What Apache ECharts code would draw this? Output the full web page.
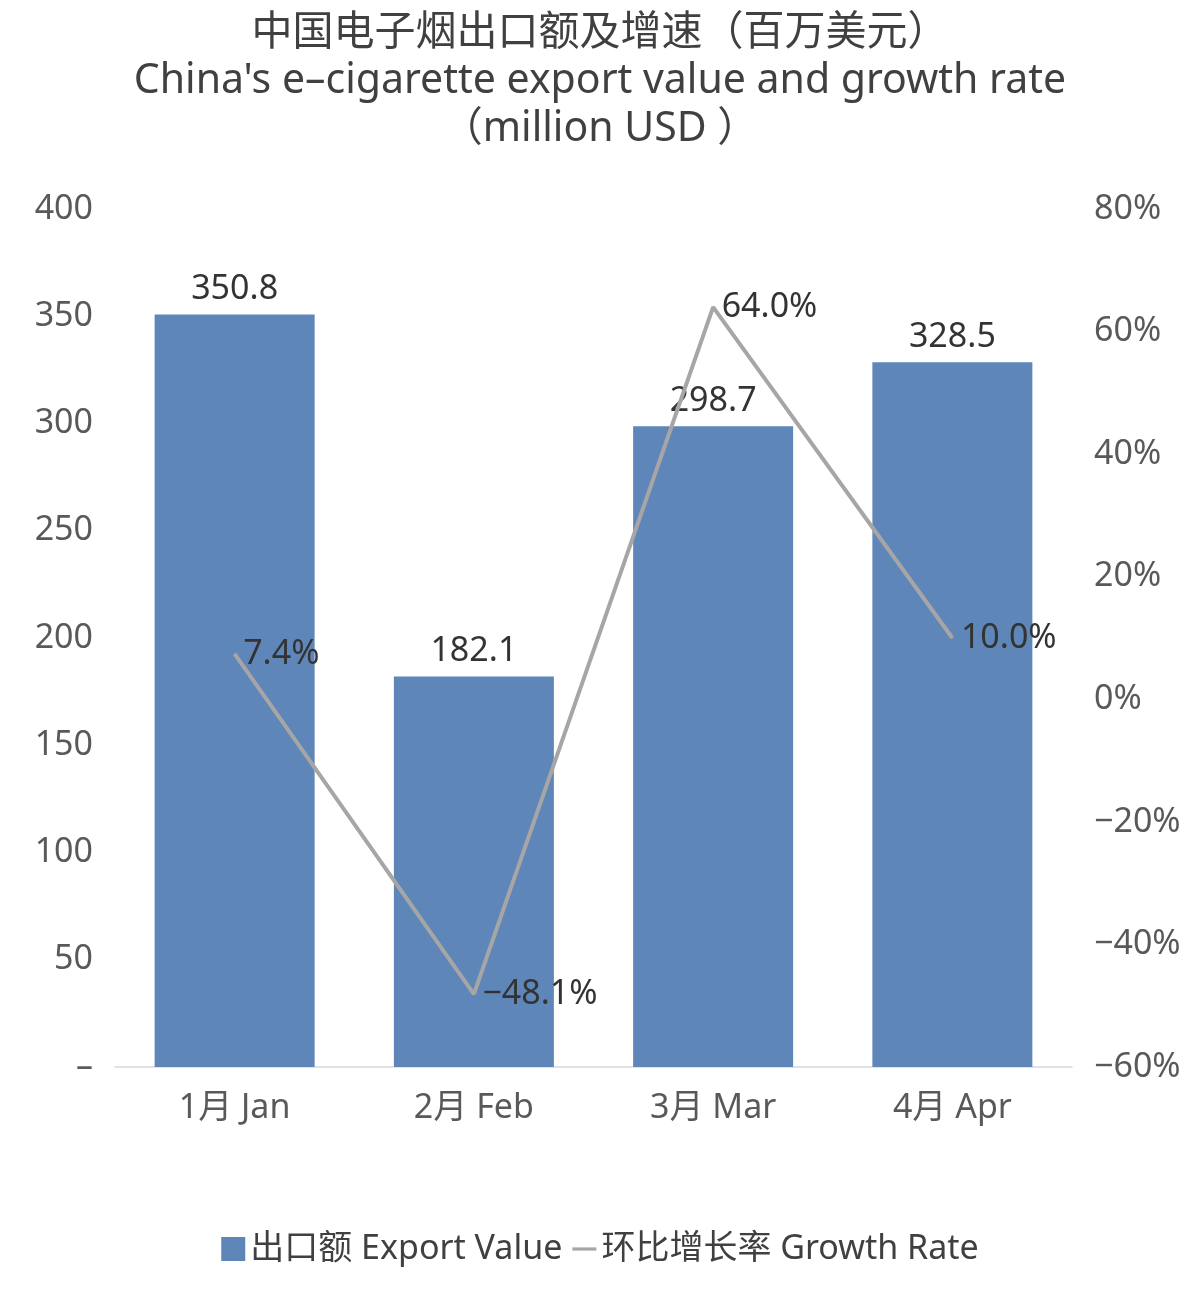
<!DOCTYPE html>
<html><head><meta charset="utf-8">
<script src="https://cdn.jsdelivr.net/npm/echarts@6/dist/echarts.min.js"></script>
<style>html,body{margin:0;padding:0;background:#fff}#c{width:1200px;height:1291px}</style>
</head><body><div id="c"></div>
<script>
const categories=['1月 Jan','2月 Feb','3月 Mar','4月 Apr'];
const exportValue=[350.8,182.1,298.7,328.5];
const growthRate=[7.4,-48.1,64.0,10.0];
const F='"Noto Sans","Noto Sans CJK SC",sans-serif';
const chart=echarts.init(document.getElementById('c'));
chart.setOption({
  animation:false,
  textStyle:{fontFamily:F},
  title:{text:'中国电子烟出口额及增速（百万美元）\nChina\'s e–cigarette export value and growth rate\n（million USD ）',left:'center',top:4,
    textStyle:{fontSize:41,fontWeight:'normal',color:'#404040',lineHeight:48,fontFamily:F}},
  legend:{bottom:20,left:'center',itemWidth:24,itemHeight:24,itemGap:10,
    textStyle:{fontSize:34,color:'#404040',fontFamily:F},
    data:[{name:'出口额 Export Value',icon:'rect'},{name:'环比增长率 Growth Rate',icon:'path://M0,10 L30,10 L30,14 L0,14 Z'}]},
  grid:{left:115,right:128,top:209,bottom:224},
  xAxis:{type:'category',data:categories,axisTick:{show:false},
    axisLine:{lineStyle:{color:'#d9d9d9',width:1.5}},
    axisLabel:{fontSize:34,color:'#595959',margin:24,fontFamily:F}},
  yAxis:[
    {type:'value',min:0,max:400,interval:50,splitLine:{show:false},
     axisLabel:{fontSize:34,color:'#595959',margin:22,fontFamily:F,formatter:v=>v===0?'–':v}},
    {type:'value',min:-60,max:80,interval:20,splitLine:{show:false},
     axisLabel:{fontSize:34,color:'#595959',margin:22,fontFamily:F,formatter:v=>(v<0?'−'+(-v):v)+'%'}}
  ],
  series:[
    {name:'出口额 Export Value',type:'bar',data:exportValue,barWidth:160,
     itemStyle:{color:'#5f86b8'},
     label:{show:true,position:'top',fontSize:34,color:'#333',distance:8,fontFamily:F}},
    {name:'环比增长率 Growth Rate',type:'line',yAxisIndex:1,data:growthRate,symbol:'circle',symbolSize:1,showSymbol:true,
     lineStyle:{color:'#a6a6a6',width:4},itemStyle:{color:'#a6a6a6'},
     label:{show:true,position:'right',fontSize:34,color:'#333',distance:8,fontFamily:F,
       formatter:p=>(p.value<0?'−':'')+Math.abs(p.value).toFixed(1)+'%'}}
  ]
});
</script></body></html>
